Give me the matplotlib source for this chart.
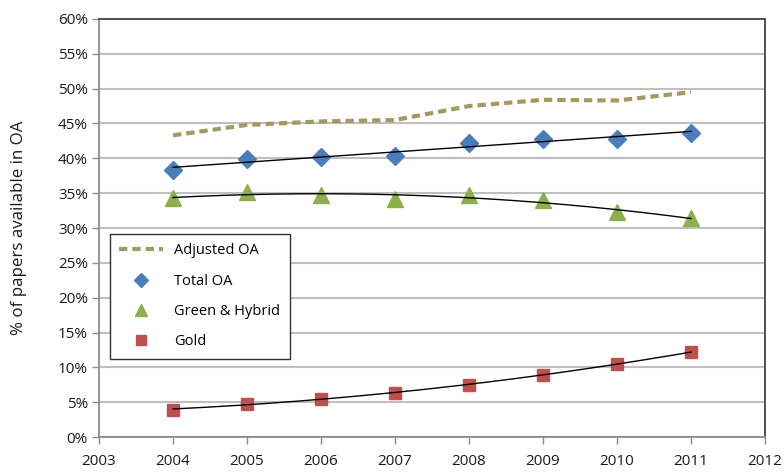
import numpy as np
import matplotlib
matplotlib.use("Agg")
import matplotlib.pyplot as plt
from matplotlib.ticker import FuncFormatter, MultipleLocator

years = [2004, 2005, 2006, 2007, 2008, 2009, 2010, 2011]
adjusted_oa = [43.3, 44.8, 45.3, 45.5, 47.5, 48.4, 48.3, 49.5]
total_oa = [38.3, 39.9, 40.2, 40.4, 42.2, 42.8, 42.8, 43.7]
green_hybrid = [34.3, 35.1, 34.8, 34.2, 34.7, 34.0, 32.3, 31.4]
gold = [3.9, 4.8, 5.5, 6.3, 7.5, 8.9, 10.5, 12.2]
series_labels = ["Adjusted OA", "Total OA", "Green & Hybrid", "Gold"]

plt.rcParams['font.family'] = ['Open Sans', 'DejaVu Sans']

fig = plt.figure(figsize=(7.84, 4.73), dpi=100)
ax = fig.add_axes([99/784, 36/473, 666/784, 418/473])

x = np.array(years, dtype=float)

# Adjusted OA dashed line
ax.plot(years, adjusted_oa, linestyle=(0, (2.0, 1.2)), color='#A39A5E', lw=3.0,
        label=series_labels[0], zorder=3, dash_capstyle='butt')

# markers
ax.plot(years, total_oa, linestyle='none', marker='D', ms=9.5, color='#4A7EBB',
        label=series_labels[1], zorder=4)
ax.plot(years, green_hybrid, linestyle='none', marker='^', ms=11, color='#8DB04A',
        label=series_labels[2], zorder=4)
ax.plot(years, gold, linestyle='none', marker='s', ms=9, color='#C0504D',
        label=series_labels[3], zorder=4)

# trendlines (Excel-style fits)
xs = np.linspace(x[0], x[-1], 200)
for vals, deg in [(total_oa, 1), (green_hybrid, 2), (gold, 2)]:
    c = np.polyfit(x - 2004, vals, deg)
    ax.plot(xs, np.polyval(c, xs - 2004), color='black', lw=1.0, zorder=5)

ax.set_xlim(2003, 2012)
ax.set_ylim(0, 60)
ax.xaxis.set_major_locator(MultipleLocator(1))
ax.yaxis.set_major_locator(MultipleLocator(5))
ax.yaxis.set_major_formatter(FuncFormatter(lambda v, p: f"{int(round(v))}%"))
ax.xaxis.set_major_formatter(FuncFormatter(lambda v, p: f"{int(round(v))}"))

ax.grid(axis='y', color='#BFBFBF', lw=1.5)
ax.set_axisbelow(True)
for s in ['top', 'right']:
    ax.spines[s].set_color('#505050')
    ax.spines[s].set_linewidth(1.4)
for s in ['left', 'bottom']:
    ax.spines[s].set_color('#8C8C8C')
    ax.spines[s].set_linewidth(1.3)
ax.tick_params(axis='both', direction='out', length=5, color='#8C8C8C', width=1,
               labelsize=11, labelcolor='#1a1a1a', pad=3)
ax.tick_params(axis='x', pad=7)

ax.set_ylabel("% of papers available in OA", fontsize=12.2, color='#1a1a1a')
ax.yaxis.set_label_coords(-0.108, 0.5)

leg = ax.legend(loc='upper left', bbox_to_anchor=(0.0165, 0.486), borderaxespad=0,
                fontsize=10.5, labelspacing=1.05, frameon=True, fancybox=False,
                handlelength=3.0, handletextpad=0.75, borderpad=0.65, markerscale=0.75)
leg.get_frame().set_edgecolor('#333333')
leg.get_frame().set_linewidth(1.0)
leg.get_frame().set_alpha(1)

fig.savefig("out.png", dpi=100)
